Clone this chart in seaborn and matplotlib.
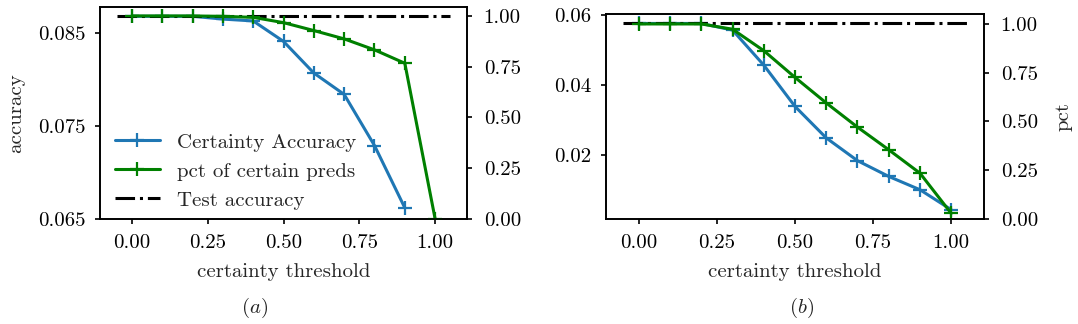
import numpy as np
import pandas as pd
import matplotlib
matplotlib.use("Agg")
import matplotlib.pyplot as plt
import seaborn as sns

# ---------------- data ----------------
thresholds = [0.0, 0.1, 0.2, 0.3, 0.4, 0.5, 0.6, 0.7, 0.8, 0.9, 1.0]

acc_a = [0.0868, 0.0868, 0.0868, 0.0865, 0.0863, 0.0841, 0.0807, 0.0784, 0.0729, 0.0662, np.nan]
pct_a = [1.0, 1.0, 1.0, 0.998, 0.993, 0.967, 0.928, 0.887, 0.833, 0.767, 0.0]
test_acc_a = 0.0868

acc_b = [0.0575, 0.0575, 0.0575, 0.0556, 0.0456, 0.0338, 0.0248, 0.0183, 0.0138, 0.0100, 0.0043]
pct_b = [1.0, 1.0, 1.0, 0.973, 0.863, 0.726, 0.595, 0.471, 0.355, 0.235, 0.029]
test_acc_b = 0.0575

test_span = [-0.05, 1.05]

xticks = [0.0, 0.25, 0.5, 0.75, 1.0]
pct_ticks = [0.0, 0.25, 0.5, 0.75, 1.0]
acc_a_ticks = [0.065, 0.075, 0.085]
acc_b_ticks = [0.02, 0.04, 0.06]

labels = ["Certainty Accuracy", "pct of certain preds", "Test accuracy"]
captions = ["(a)", "(b)"]

# ---------------- style ----------------
sns.set_style("ticks")
plt.rcParams["font.family"] = ["cmr10", "DejaVu Serif"]
plt.rcParams["mathtext.fontset"] = "cm"
plt.rcParams["axes.formatter.use_mathtext"] = True
plt.rcParams["font.size"] = 15
plt.rcParams["axes.linewidth"] = 1.2
plt.rcParams["xtick.major.width"] = 1.2
plt.rcParams["ytick.major.width"] = 1.2
plt.rcParams["xtick.major.pad"] = 7.5
plt.rcParams["xtick.color"] = "black"
plt.rcParams["ytick.color"] = "black"
plt.rcParams["axes.edgecolor"] = "black"

BLUE = "#1f77b4"
GREEN = "#008000"
LW = 2.2
MS = 10
MEW = 1.6

fig = plt.figure(figsize=(10.78, 3.24), dpi=100)

def panel(rect, acc, pct, test_acc, acc_ylim, acc_ticks, pct_ylim, left_label, right_label, legend):
    ax = fig.add_axes(rect)
    sns.lineplot(x=thresholds, y=acc, ax=ax, color=BLUE, marker="+", markersize=MS,
                 markeredgewidth=MEW, markeredgecolor=BLUE, linewidth=LW, label=labels[0], legend=False)
    sns.lineplot(x=test_span, y=[test_acc, test_acc], ax=ax, color="black", linestyle="-.",
                 linewidth=LW, label=labels[2], legend=False)
    ax2 = ax.twinx()
    sns.lineplot(x=thresholds, y=pct, ax=ax2, color=GREEN, marker="+", markersize=MS,
                 markeredgewidth=MEW, markeredgecolor=GREEN, linewidth=LW, label=labels[1], legend=False)
    ax.set_xlim(-0.105, 1.105)
    ax.set_xticks(xticks)
    ax.set_xticklabels([f"{t:.2f}" for t in xticks])
    ax.set_ylim(*acc_ylim)
    ax.set_yticks(acc_ticks)
    ax.set_yticklabels([f"{t:g}" if len(f"{t:g}") > 4 else f"{t:.2f}" for t in acc_ticks])
    ax.tick_params(axis="y", pad=7)
    ax2.set_ylim(*pct_ylim)
    ax2.set_yticks(pct_ticks)
    ax2.set_yticklabels([f"{t:.2f}" for t in pct_ticks])
    ax2.tick_params(axis="y", pad=8.5)
    ax.set_xlabel("certainty threshold", labelpad=8)
    ax.set_ylabel(left_label, labelpad=9)
    ax2.set_ylabel(right_label, labelpad=12)
    for a in (ax, ax2):
        for s in a.spines.values():
            s.set_visible(True)
            s.set_color("black")
    if legend:
        h1 = ax.get_lines()
        h2 = ax2.get_lines()
        ax.legend([h1[0], h2[0], h1[1]], labels, loc="lower left", frameon=False,
                  fontsize=15, handlelength=2.2, borderaxespad=0.3,
                  bbox_to_anchor=(0.0, -0.025))
    return ax, ax2

panel([100/1078, 1 - 219/324, 367/1078, 212/324], acc_a, pct_a, test_acc_a,
      (0.065, 0.0878), acc_a_ticks, (0.0, 1.044), "accuracy", "", True)
panel([606/1078, 1 - 219/324, 378/1078, 205/324], acc_b, pct_b, test_acc_b,
      (0.00164, 0.0602), acc_b_ticks, (0.0, 1.051), "", "pct", False)

fig.text(255/1078, 1 - 308/324, r"$\mathit{(a)}$", ha="center", va="center", fontsize=15)
fig.text(802/1078, 1 - 308/324, r"$\mathit{(b)}$", ha="center", va="center", fontsize=15)

fig.savefig("out.png", dpi=100)
